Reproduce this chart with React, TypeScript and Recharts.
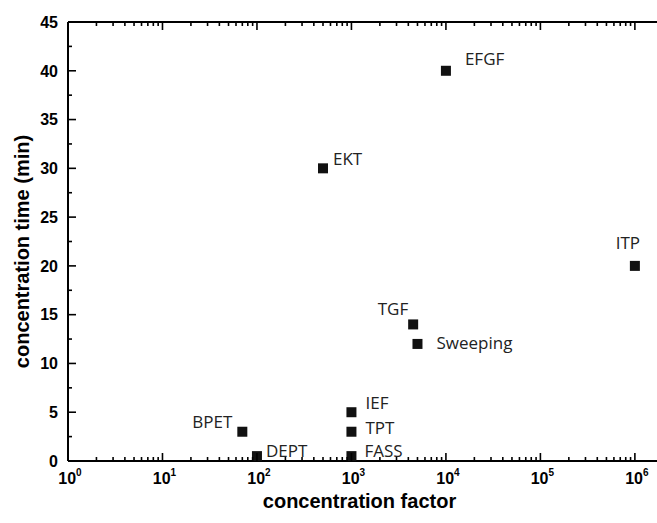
import React from "react";
import { ScatterChart, Scatter, XAxis, YAxis } from "recharts";

// ─── Data ────────────────────────────────────────────────────────────────────

const METHODS = ["EFGF", "EKT", "ITP", "TGF", "Sweeping", "IEF", "TPT", "FASS", "BPET", "DEPT"];
const FACTORS = [10000, 500, 1000000, 4500, 5000, 1000, 1000, 1000, 70, 100];
const TIMES = [40, 30, 20, 14, 12, 5, 3, 0.5, 3, 0.5];

const X_MAJOR = [1, 10, 100, 1000, 10000, 100000, 1000000];
const Y_MAJOR = [0, 5, 10, 15, 20, 25, 30, 35, 40, 45];

// label placement relative to the marker
const LABEL_POS: Record<string, { dx: number; dy: number; anchor: "start" | "middle" | "end" }> = {
  EFGF: { dx: 19, dy: -12, anchor: "start" },
  EKT: { dx: 10, dy: -10, anchor: "start" },
  ITP: { dx: -7, dy: -23, anchor: "middle" },
  TGF: { dx: -5, dy: -16, anchor: "end" },
  Sweeping: { dx: 19, dy: -1, anchor: "start" },
  IEF: { dx: 14, dy: -10, anchor: "start" },
  TPT: { dx: 14, dy: -4, anchor: "start" },
  FASS: { dx: 13, dy: -6, anchor: "start" },
  BPET: { dx: -10, dy: -10, anchor: "end" },
  DEPT: { dx: 9, dy: -6, anchor: "start" },
};

const data = METHODS.map((name, i) => ({ name, x: FACTORS[i], y: TIMES[i] }));

// minor ticks 2..9 per decade, and halfway between y majors
const xTicks = X_MAJOR.flatMap((d) => [d, ...(d < 1000000 ? [2, 3, 4, 5, 6, 7, 8, 9].map((m) => m * d) : [])]);
const yTicks = Y_MAJOR.flatMap((v) => (v < 45 ? [v, v + 2.5] : [v]));

const isXMajor = (v: number) => X_MAJOR.includes(v);
const isYMajor = (v: number) => Y_MAJOR.includes(v);

const AXIS_FONT = "'Liberation Sans', Arial, sans-serif";
const LABEL_FONT = "'Open Sans', 'Noto Sans', sans-serif";
const TICK_W = 1.6;

// ─── Tick renderers (ticks point inward) ─────────────────────────────────────

function BottomTick({ x, y, payload }: any) {
  const v = payload.value;
  const major = isXMajor(v);
  return (
    <g>
      <line x1={x} x2={x} y1={y} y2={y - (major ? 8 : 4)} stroke="#000" strokeWidth={TICK_W} />
      {major && (
        <text x={x + 2} y={y + 23} textAnchor="middle" fontFamily={AXIS_FONT} fontWeight={700} fontSize={16} fill="#000">
          10
          <tspan dy={-8} fontSize={10}>{Math.round(Math.log10(v))}</tspan>
        </text>
      )}
    </g>
  );
}

function TopTick({ x, y, payload }: any) {
  const major = isXMajor(payload.value);
  return <line x1={x} x2={x} y1={y} y2={y + (major ? 8 : 4)} stroke="#000" strokeWidth={TICK_W} />;
}

function LeftTick({ x, y, payload }: any) {
  const v = payload.value;
  const major = isYMajor(v);
  return (
    <g>
      <line x1={x} x2={x + (major ? 8 : 4)} y1={y} y2={y} stroke="#000" strokeWidth={TICK_W} />
      {major && (
        <text x={x - 10} y={y} dy="0.36em" textAnchor="end" fontFamily={AXIS_FONT} fontWeight={700} fontSize={16} fill="#000">
          {v}
        </text>
      )}
    </g>
  );
}

function RightTick({ x, y, payload }: any) {
  const major = isYMajor(payload.value);
  return <line x1={x} x2={x - (major ? 8 : 4)} y1={y} y2={y} stroke="#000" strokeWidth={TICK_W} />;
}

function SquareMarker({ cx, cy, payload }: any) {
  const pos = LABEL_POS[payload.name];
  return (
    <g>
      <rect x={cx - 5} y={cy - 5} width={10} height={10} fill="#111" />
      <text
        x={cx + pos.dx}
        y={cy + pos.dy}
        dominantBaseline="central"
        textAnchor={pos.anchor}
        fontFamily={LABEL_FONT}
        fontSize={17}
        fill="#222"
      >
        {payload.name}
      </text>
    </g>
  );
}

// ─── Axis titles ─────────────────────────────────────────────────────────────

const titleStyle = { fontFamily: AXIS_FONT, fontWeight: 700, fontSize: 20, fill: "#000" };

function XTitle({ viewBox }: any) {
  const vb = viewBox ?? { x: 68, y: 461, width: 591, height: 1 };
  const cx = vb.x + vb.width / 2 - 4;
  const cy = vb.y + 40;
  return (
    <text x={cx} y={cy} textAnchor="middle" dominantBaseline="central" style={titleStyle}>
      concentration factor
    </text>
  );
}

function YTitle({ viewBox }: any) {
  const vb = viewBox ?? { x: 67, y: 22, width: 1, height: 439 };
  const cx = vb.x + vb.width - 46;
  const cy = vb.y + vb.height / 2 + 10;
  return (
    <text
      x={cx}
      y={cy}
      textAnchor="middle"
      dominantBaseline="central"
      transform={`rotate(-90, ${cx}, ${cy})`}
      style={titleStyle}
    >
      concentration time (min)
    </text>
  );
}

// ─── Chart ───────────────────────────────────────────────────────────────────

export default function App() {
  const axisLine = { stroke: "#000", strokeWidth: 2 };
  return (
    <div style={{ position: "absolute", left: 0, top: 0, width: 657, height: 523, overflow: "hidden", background: "#fff" }}>
      <ScatterChart width={662} height={523} margin={{ top: 21, right: 2, bottom: 61, left: 67 }}>
        <XAxis
          xAxisId="bottom"
          dataKey="x"
          type="number"
          scale="log"
          domain={[1, 1800000]}
          ticks={xTicks}
          interval={0}
          allowDataOverflow
          height={1}
          tickSize={0}
          tickMargin={0}
          tickLine={false}
          axisLine={axisLine}
          tick={<BottomTick />}
          label={{ content: XTitle }}
        />
        <XAxis
          xAxisId="top"
          orientation="top"
          dataKey="x"
          type="number"
          scale="log"
          domain={[1, 1800000]}
          ticks={xTicks}
          interval={0}
          allowDataOverflow
          height={1}
          tickSize={0}
          tickMargin={0}
          tickLine={false}
          axisLine={axisLine}
          tick={<TopTick />}
        />
        <YAxis
          yAxisId="left"
          dataKey="y"
          type="number"
          domain={[0, 45]}
          ticks={yTicks}
          interval={0}
          width={1}
          tickSize={0}
          tickMargin={0}
          tickLine={false}
          axisLine={axisLine}
          tick={<LeftTick />}
          label={{ content: YTitle }}
        />
        <YAxis
          yAxisId="right"
          orientation="right"
          dataKey="y"
          type="number"
          domain={[0, 45]}
          ticks={yTicks}
          interval={0}
          width={1}
          tickSize={0}
          tickMargin={0}
          tickLine={false}
          axisLine={axisLine}
          tick={<RightTick />}
        />
        <Scatter
          data={data}
          xAxisId="bottom"
          yAxisId="left"
          shape={<SquareMarker />}
          isAnimationActive={false}
        />
      </ScatterChart>
    </div>
  );
}
